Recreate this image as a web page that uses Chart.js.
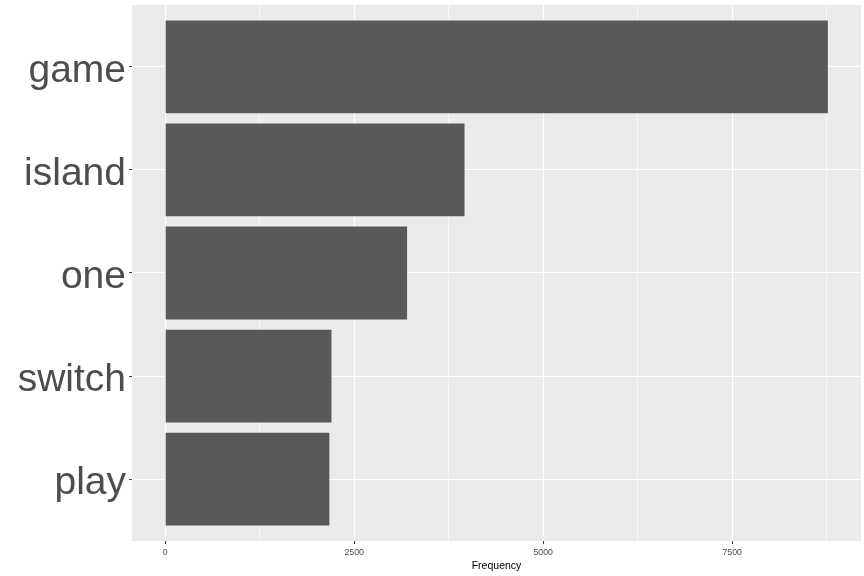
<!DOCTYPE html>
<html>
<head>
<meta charset="utf-8">
<script src="https://cdn.jsdelivr.net/npm/chart.js@4"></script>
<style>
  html, body { margin:0; padding:0; background:#ffffff; }
  #wrap { width:864px; height:576px; }
</style>
</head>
<body>
<div id="wrap"><canvas id="barChart" width="864" height="576"></canvas></div>
<script>

// ======================================
// DATA
// ======================================

let words = ["game", "island", "one", "switch", "play"];
let counts = [8765, 3960, 3200, 2200, 2172];

let majorTicks = [0, 2500, 5000, 7500];
let minorTicks = [1250, 3750, 6250, 8750];

// ggplot style expansion, 5% each side
let xMin = -0.05 * Math.max(...counts);
let xMax = 1.05 * Math.max(...counts);

let points = counts.map(function(c, i){
    return { x: c, y: i };
});

// ======================================
// GREY PANEL BEHIND THE BARS
// ======================================

let panelPlugin = {
    id: "panel",
    beforeDraw: function(chart){
        let a = chart.chartArea;
        let ctx = chart.ctx;
        ctx.save();
        ctx.fillStyle = "#EBEBEB";
        ctx.fillRect(a.left, a.top, a.right - a.left, a.bottom - a.top);
        ctx.restore();
    }
};

// ======================================
// BAR CHART
// ======================================

new Chart(document.getElementById("barChart"), {

    type: "bar",

    data: {
        datasets: [{
            data: points,
            backgroundColor: "#595959",
            borderWidth: 0,
            barPercentage: 0.9,
            categoryPercentage: 1
        }]
    },

    options: {

        responsive: false,
        animation: false,
        indexAxis: "y",

        layout: {
            padding: { top: 5, right: 3, bottom: 0, left: 0 }
        },

        plugins: {
            legend: { display: false },
            tooltip: { enabled: false }
        },

        scales: {

            x: {
                type: "linear",
                position: "bottom",
                min: xMin,
                max: xMax,
                afterBuildTicks: function(scale){
                    let all = majorTicks.concat(minorTicks).sort(function(a, b){ return a - b; });
                    scale.ticks = all.map(function(v){ return { value: v }; });
                },
                afterFit: function(scale){
                    scale.height = 35;
                },
                border: { display: false },
                grid: {
                    color: "#ffffff",
                    lineWidth: function(ctx){
                        return majorTicks.includes(ctx.tick.value) ? 1.1 : 0.6;
                    },
                    tickLength: 3,
                    tickColor: function(ctx){
                        return majorTicks.includes(ctx.tick.value) ? "#333333" : "rgba(0,0,0,0)";
                    },
                    tickWidth: 1
                },
                ticks: {
                    autoSkip: false,
                    maxRotation: 0,
                    padding: 3,
                    color: "#4D4D4D",
                    font: { family: "'Liberation Sans', Arial, sans-serif", size: 8.8 },
                    callback: function(v){
                        return majorTicks.includes(v) ? String(v) : "";
                    }
                },
                title: {
                    display: true,
                    text: "Frequency",
                    color: "#000000",
                    padding: { top: 0, bottom: 4 },
                    font: { family: "'Liberation Sans', Arial, sans-serif", size: 10.5, lineHeight: 1.2 }
                }
            },

            y: {
                type: "linear",
                reverse: true,
                offset: false,
                min: -0.6,
                max: 4.6,
                afterBuildTicks: function(scale){
                    scale.ticks = words.map(function(w, i){ return { value: i }; });
                },
                afterFit: function(scale){
                    scale.width = 132;
                    scale.paddingTop = 0;
                    scale.paddingBottom = 0;
                },
                border: { display: false },
                grid: {
                    offset: false,
                    color: "#ffffff",
                    lineWidth: 1.1,
                    tickLength: 3,
                    tickColor: "#333333",
                    tickWidth: 1
                },
                ticks: {
                    autoSkip: false,
                    padding: 3,
                    labelOffset: 4,
                    color: "#4D4D4D",
                    font: { family: "'Liberation Sans', Arial, sans-serif", size: 39 },
                    callback: function(v){
                        return words[v];
                    }
                }
            }
        }
    },

    plugins: [panelPlugin]

});

</script>
</body>
</html>
